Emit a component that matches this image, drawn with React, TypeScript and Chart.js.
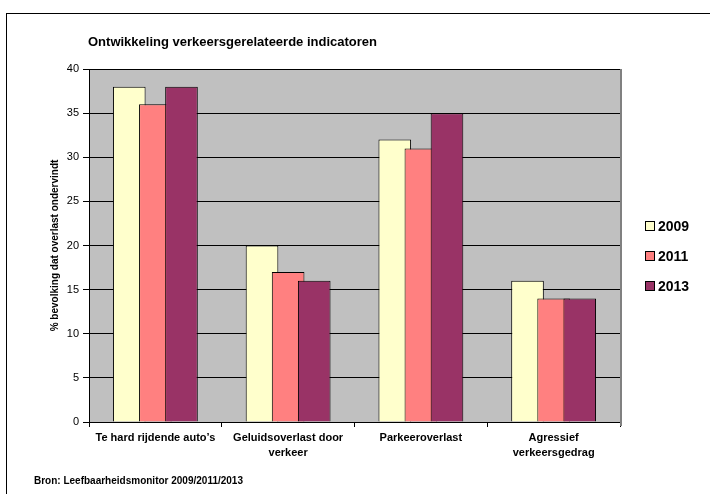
import React, { useEffect, useRef } from "react";
import { Chart, registerables } from "chart.js";

Chart.register(...registerables);

const categories: (string | string[])[] = [
  "Te hard rijdende auto’s",
  ["Geluidsoverlast door", "verkeer"],
  "Parkeeroverlast",
  ["Agressief", "verkeersgedrag"],
];
const series2009 = [38, 20, 32, 16];
const series2011 = [36, 17, 31, 14];
const series2013 = [38, 16, 35, 14];
const seriesLabels = ["2009", "2011", "2013"];
const seriesColors = ["#FFFFCC", "#FF8080", "#993366"];
const yTicks = { min: 0, max: 40, step: 5 };

const chartTitle = "Ontwikkeling verkeersgerelateerde indicatoren";
const yTitle = "% bevolking dat overlast ondervindt";
const sourceText = "Bron: Leefbaarheidsmonitor 2009/2011/2013";

const FONT = "Arial, 'Liberation Sans', sans-serif";

// Draw datasets first-to-last so later series overlap earlier ones (Excel style)
const drawOrderPlugin = {
  id: "drawOrder",
  beforeDatasetDraw() {
    return false;
  },
  afterDatasetsDraw(chart: any) {
    const { ctx, chartArea } = chart;
    ctx.save();
    ctx.beginPath();
    ctx.rect(chartArea.left, chartArea.top, chartArea.right - chartArea.left, chartArea.bottom - chartArea.top);
    ctx.clip();
    for (let i = 0; i < chart.data.datasets.length; i++) {
      const meta = chart.getDatasetMeta(i);
      if (meta.visible) meta.controller.draw();
    }
    ctx.restore();
  },
};

const decorPlugin = {
  id: "decor",
  beforeDraw(chart: any) {
    const { ctx, chartArea } = chart;
    ctx.save();
    ctx.fillStyle = "#ffffff";
    ctx.fillRect(0, 0, chart.width, chart.height);
    ctx.strokeStyle = "#000000";
    ctx.lineWidth = 1;
    ctx.strokeRect(6.5, 13.5, 800, 800);
    ctx.fillStyle = "#C0C0C0";
    ctx.fillRect(chartArea.left, chartArea.top, chartArea.right - chartArea.left, chartArea.bottom - chartArea.top);
    ctx.restore();
  },
  afterDraw(chart: any) {
    const { ctx, chartArea } = chart;
    ctx.save();
    ctx.strokeStyle = "#808080";
    ctx.lineWidth = 2;
    ctx.beginPath();
    ctx.moveTo(chartArea.right + 1, chartArea.top);
    ctx.lineTo(chartArea.right + 1, chartArea.bottom + 4);
    ctx.stroke();
    ctx.fillStyle = "#000000";
    ctx.textBaseline = "middle";
    ctx.textAlign = "left";
    ctx.font = `bold 13px ${FONT}`;
    ctx.fillText(chartTitle, 88, 42);
    ctx.font = `bold 10px ${FONT}`;
    ctx.fillText(sourceText, 34, 481);
    ctx.font = `bold 14px ${FONT}`;
    chart.data.datasets.forEach((ds: any, i: number) => {
      const cy = 226 + i * 30;
      ctx.fillStyle = ds.backgroundColor;
      ctx.fillRect(645.5, cy - 4.5, 9, 9);
      ctx.strokeStyle = "#000000";
      ctx.lineWidth = 1;
      ctx.strokeRect(645.5, cy - 4.5, 9, 9);
      ctx.fillStyle = "#000000";
      ctx.fillText(ds.label, 658, cy + 1);
    });
    ctx.restore();
  },
};

export default function App() {
  const ref = useRef<HTMLCanvasElement>(null);
  useEffect(() => {
    if (!ref.current) return;
    const datasets = [series2009, series2011, series2013].map((d, i) => ({
      label: seriesLabels[i],
      data: d,
      backgroundColor: seriesColors[i],
      borderColor: "#000000",
      borderWidth: 1,
      categoryPercentage: 0.59,
      barPercentage: 1.25,
    }));
    const chart = new Chart(ref.current, {
      type: "bar",
      data: { labels: categories as any, datasets },
      plugins: [decorPlugin, drawOrderPlugin],
      options: {
        responsive: false,
        animation: false,
        layout: { padding: { left: 0, right: 90, top: 69, bottom: 0 } },
        plugins: { legend: { display: false }, tooltip: { enabled: false }, title: { display: false } },
        scales: {
          x: {
            grid: { display: true, drawOnChartArea: false, drawTicks: true, tickLength: 5, color: "#000000", offset: true },
            border: { display: true, color: "#000000", width: 1 },
            ticks: {
              color: "#000000",
              font: { family: FONT, size: 11, weight: "bold", lineHeight: 1.4 },
              maxRotation: 0,
              autoSkip: false,
              padding: 3,
            },
            afterFit: (s: any) => { s.height = 72; },
          },
          y: {
            min: yTicks.min,
            max: yTicks.max,
            ticks: { stepSize: yTicks.step, color: "#000000", font: { family: FONT, size: 11 }, padding: 4 },
            grid: { color: "#000000", lineWidth: 1, tickLength: 6 },
            border: { display: true, color: "#000000", width: 1 },
            title: {
              display: true,
              text: yTitle,
              color: "#000000",
              font: { family: FONT, size: 10, weight: "bold" },
              padding: { top: 49, bottom: 0 },
            },
            afterFit: (s: any) => { s.width = 89; },
          },
        },
      },
    } as any);
    return () => chart.destroy();
  }, []);
  return (
    <div style={{ position: "fixed", left: 0, top: 0, width: 710, height: 494, background: "#fff" }}>
      <canvas ref={ref} width={710} height={494} style={{ display: "block" }} />
    </div>
  );
}
